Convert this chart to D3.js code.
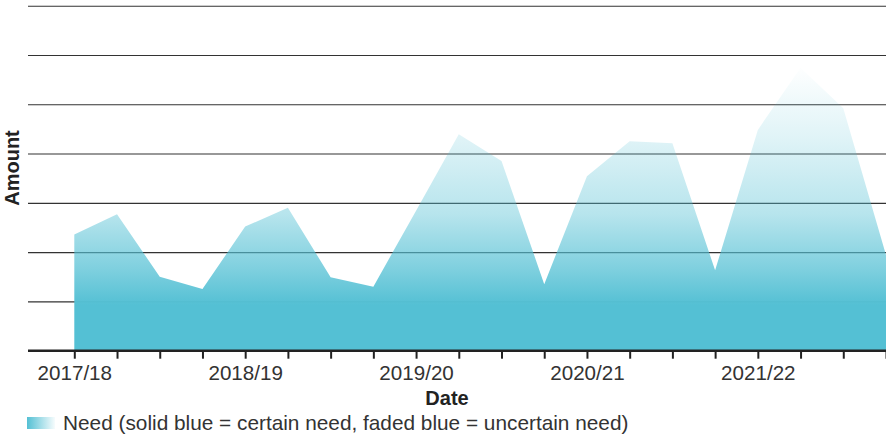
<!DOCTYPE html>
<html>
<head>
<meta charset="utf-8">
<script src="https://cdn.jsdelivr.net/npm/d3@7"></script>
<style>
  body { margin: 0; background: #fff; }
  svg { display: block; font-family: "Liberation Sans", Arial, Helvetica, sans-serif; }
</style>
</head>
<body>
<svg id="chart" width="886" height="434"></svg>
<script>
// quarterly points, one year label every 4 quarters
var yearLabels = ["2017/18", "2018/19", "2019/20", "2020/21", "2021/22"];
var quarters = d3.range(20);
var need = [2.36, 2.77, 1.50, 1.25, 2.52, 2.90, 1.49, 1.30,
            2.84, 4.39, 3.85, 1.35, 3.54, 4.25, 4.21, 1.63,
            4.48, 5.74, 4.92, 1.94];
var gridValues = [1, 2, 3, 4, 5, 6, 7];

var svg = d3.select("#chart");
var blue = "#54c0d4";

var x = d3.scaleLinear().domain([0, 19]).range([74.3, 886]);
var y = d3.scaleLinear().domain([0, 7]).range([350.7, 5.7]);
var left = 28, right = 886;

var defs = svg.append("defs");
var grad = defs.append("linearGradient")
    .attr("id", "fade")
    .attr("gradientUnits", "userSpaceOnUse")
    .attr("x1", 0).attr("x2", 0)
    .attr("y1", 65).attr("y2", 305);
[[0, 0], [0.3, 0.18], [0.62, 0.42], [0.85, 0.75], [1, 1]].forEach(function (s) {
    grad.append("stop").attr("offset", s[0]).attr("stop-color", blue).attr("stop-opacity", s[1]);
});
var legGrad = defs.append("linearGradient").attr("id", "legfade");
legGrad.append("stop").attr("offset", 0).attr("stop-color", blue).attr("stop-opacity", 1);
legGrad.append("stop").attr("offset", 1).attr("stop-color", blue).attr("stop-opacity", 0.05);

// gridlines
var grid = svg.append("g")
    .attr("transform", "translate(" + left + ",0)")
    .call(d3.axisLeft(y).tickValues(gridValues).tickSize(-(right - left)).tickFormat(""));
grid.select(".domain").remove();
grid.selectAll(".tick line").attr("stroke", "#333").attr("stroke-width", 1.1);

// area
var area = d3.area()
    .x(function (d, i) { return x(i); })
    .y0(y(0))
    .y1(function (d) { return y(d); });
svg.append("path")
    .datum(need)
    .attr("d", area)
    .attr("fill", "url(#fade)");

// x axis
var xAxis = svg.append("g")
    .attr("transform", "translate(0," + y(0) + ")")
    .call(d3.axisBottom(x).tickValues(quarters).tickSize(8).tickPadding(7)
        .tickFormat(function (d) { return d % 4 === 0 ? yearLabels[d / 4] : ""; }));
xAxis.select(".domain").remove();
xAxis.selectAll(".tick line").attr("stroke", "#222").attr("stroke-width", 2);
xAxis.selectAll(".tick text")
    .attr("fill", "#333")
    .style("font-size", "20.6px")
    .style("font-family", "'Liberation Sans', Arial, sans-serif");
svg.append("line")
    .attr("x1", left).attr("x2", right)
    .attr("y1", y(0)).attr("y2", y(0))
    .attr("stroke", "#222").attr("stroke-width", 2.6);

// axis titles
svg.append("text")
    .attr("x", 447).attr("y", 405)
    .attr("text-anchor", "middle")
    .attr("font-weight", "bold")
    .attr("font-size", 20)
    .attr("fill", "#222")
    .text("Date");
svg.append("text")
    .attr("transform", "translate(19,168) rotate(-90)")
    .attr("text-anchor", "middle")
    .attr("font-weight", "bold")
    .attr("font-size", 20)
    .attr("fill", "#222")
    .text("Amount");

// legend
svg.append("rect")
    .attr("x", 27).attr("y", 417)
    .attr("width", 28).attr("height", 12)
    .attr("fill", "url(#legfade)");
svg.append("text")
    .attr("x", 63).attr("y", 430)
    .attr("font-size", 20.8)
    .attr("fill", "#333")
    .text("Need (solid blue = certain need, faded blue = uncertain need)");
</script>
</body>
</html>
